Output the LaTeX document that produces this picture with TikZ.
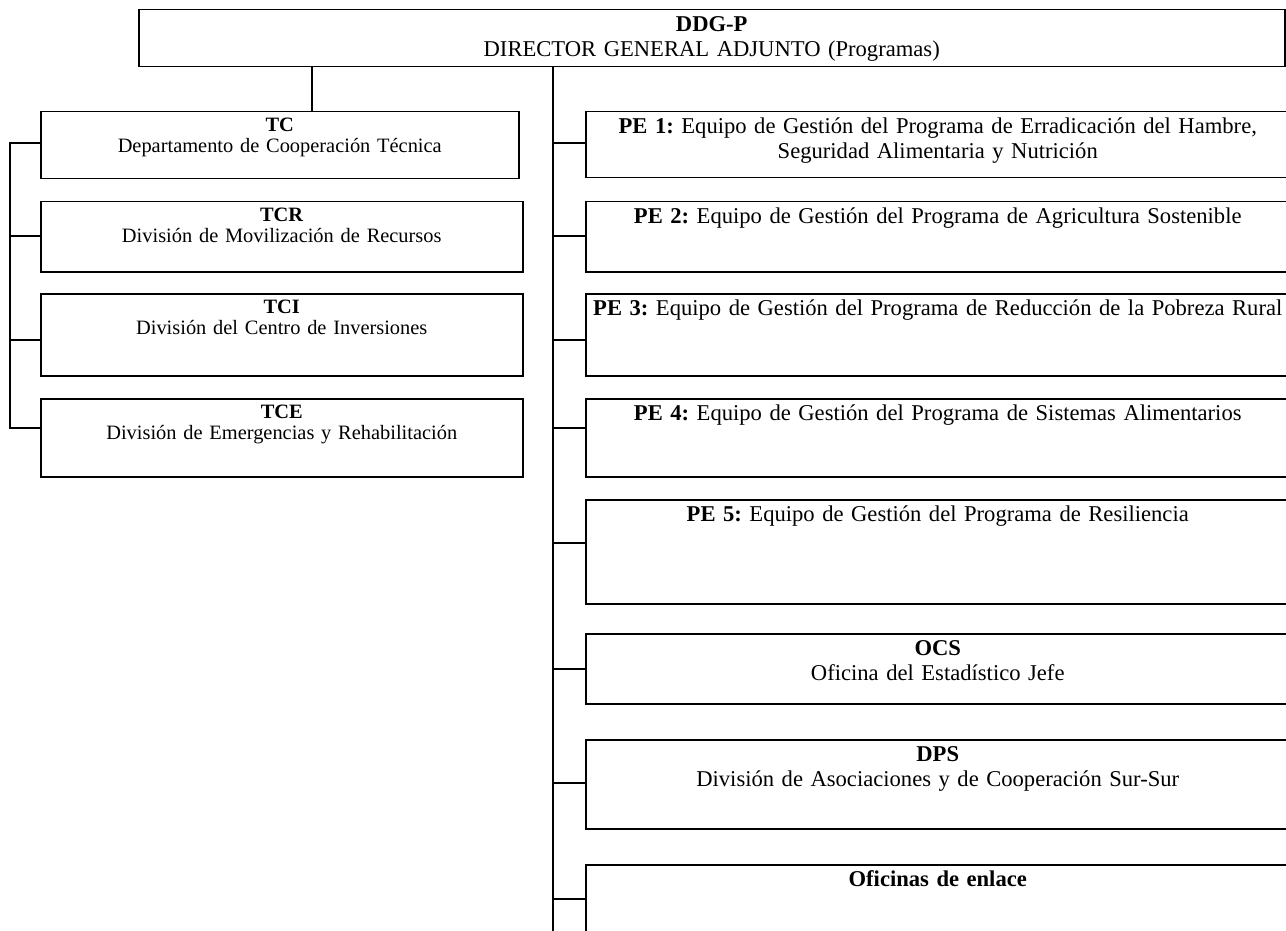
\documentclass[tikz,border=0pt]{standalone}
\usepackage{fontspec}
\setmainfont{Liberation Serif}
\usepackage{tikz}
\frenchspacing

\begin{document}
\begin{tikzpicture}
  [x=0.5pt,y=-0.5pt,line width=0.75pt,line cap=rect,
   unit/.style={draw,anchor=north west,inner sep=0pt,align=center,
     text height=11pt,font=\fontsize{11.3pt}{12.2pt}\selectfont},
   subunit/.style={unit,text width=241pt,text height=9.8pt,
     font=\fontsize{10.2pt}{10.8pt}\selectfont}]
  \useasboundingbox (0,0) rectangle (1286,931);

  \node[unit,text width=573pt,text depth=17.5pt] (n1) at (138,9) {\textbf{DDG-P}\\DIRECTOR GENERAL ADJUNTO (Programas)};
  \node[subunit,text width=239pt,text depth=23.7pt] (n2) at (40,111) {\textbf{TC}\\Departamento de Cooperación Técnica};
  \node[subunit,text depth=25.2pt] (n3) at (40,201) {\textbf{TCR}\\División de Movilización de Recursos};
  \node[subunit,text depth=31.2pt] (n4) at (40,293) {\textbf{TCI}\\División del Centro de Inversiones};
  \node[subunit,text depth=29.2pt] (n5) at (40,398) {\textbf{TCE}\\División de Emergencias y Rehabilitación};
  \node[unit,text width=352pt,text depth=22pt] (n6) at (585,111) {\textbf{PE 1:} Equipo de Gestión del Programa de Erradicación del Hambre,\\Seguridad Alimentaria y Nutrición};
  \node[unit,text width=352pt,text depth=24pt] (n7) at (585,201) {\textbf{PE 2:} Equipo de Gestión del Programa de Agricultura Sostenible};
  \node[unit,text width=352pt,text depth=30pt] (n8) at (585,293) {\textbf{PE 3:} Equipo de Gestión del Programa de Reducción de la Pobreza Rural};
  \node[unit,text width=352pt,text depth=28pt] (n9) at (585,398) {\textbf{PE 4:} Equipo de Gestión del Programa de Sistemas Alimentarios};
  \node[unit,text width=352pt,text depth=41pt] (n10) at (585,499) {\textbf{PE 5:} Equipo de Gestión del Programa de Resiliencia};
  \node[unit,text width=352pt,text depth=24pt] (n11) at (585,633) {\textbf{OCS}\\Oficina del Estadístico Jefe};
  \node[unit,text width=352pt,text depth=33.5pt] (n12) at (585,739) {\textbf{DPS}\\División de Asociaciones y de Cooperación Sur-Sur};
  \node[unit,text width=352pt,text depth=39pt] (n13) at (585,864) {\textbf{Oficinas de enlace}};

  \coordinate (t1) at (312,0);
  \coordinate (lb2) at (10,143);
  \coordinate (lb3) at (10,236);
  \coordinate (lb4) at (10,340);
  \coordinate (lb5) at (10,428);
  \coordinate (rb0) at (553,931);
  \coordinate (rb6) at (553,143);
  \coordinate (rb7) at (553,236);
  \coordinate (rb8) at (553,340);
  \coordinate (rb9) at (553,428);
  \coordinate (rb10) at (553,543);
  \coordinate (rb11) at (553,669);
  \coordinate (rb12) at (553,783);
  \coordinate (rb13) at (553,899);

  \draw (n1.south -| t1) -- (n2.north -| t1);
  \draw (lb2) -- (lb5);
  \draw (n1.south -| rb0) -- (rb0);
  \foreach \from/\to in {lb2/n2,lb3/n3,lb4/n4,lb5/n5,rb6/n6,rb7/n7,rb8/n8,rb9/n9,rb10/n10,rb11/n11,rb12/n12,rb13/n13}
    \draw (\from) -- (\from -| \to.west);
\end{tikzpicture}
\end{document}
